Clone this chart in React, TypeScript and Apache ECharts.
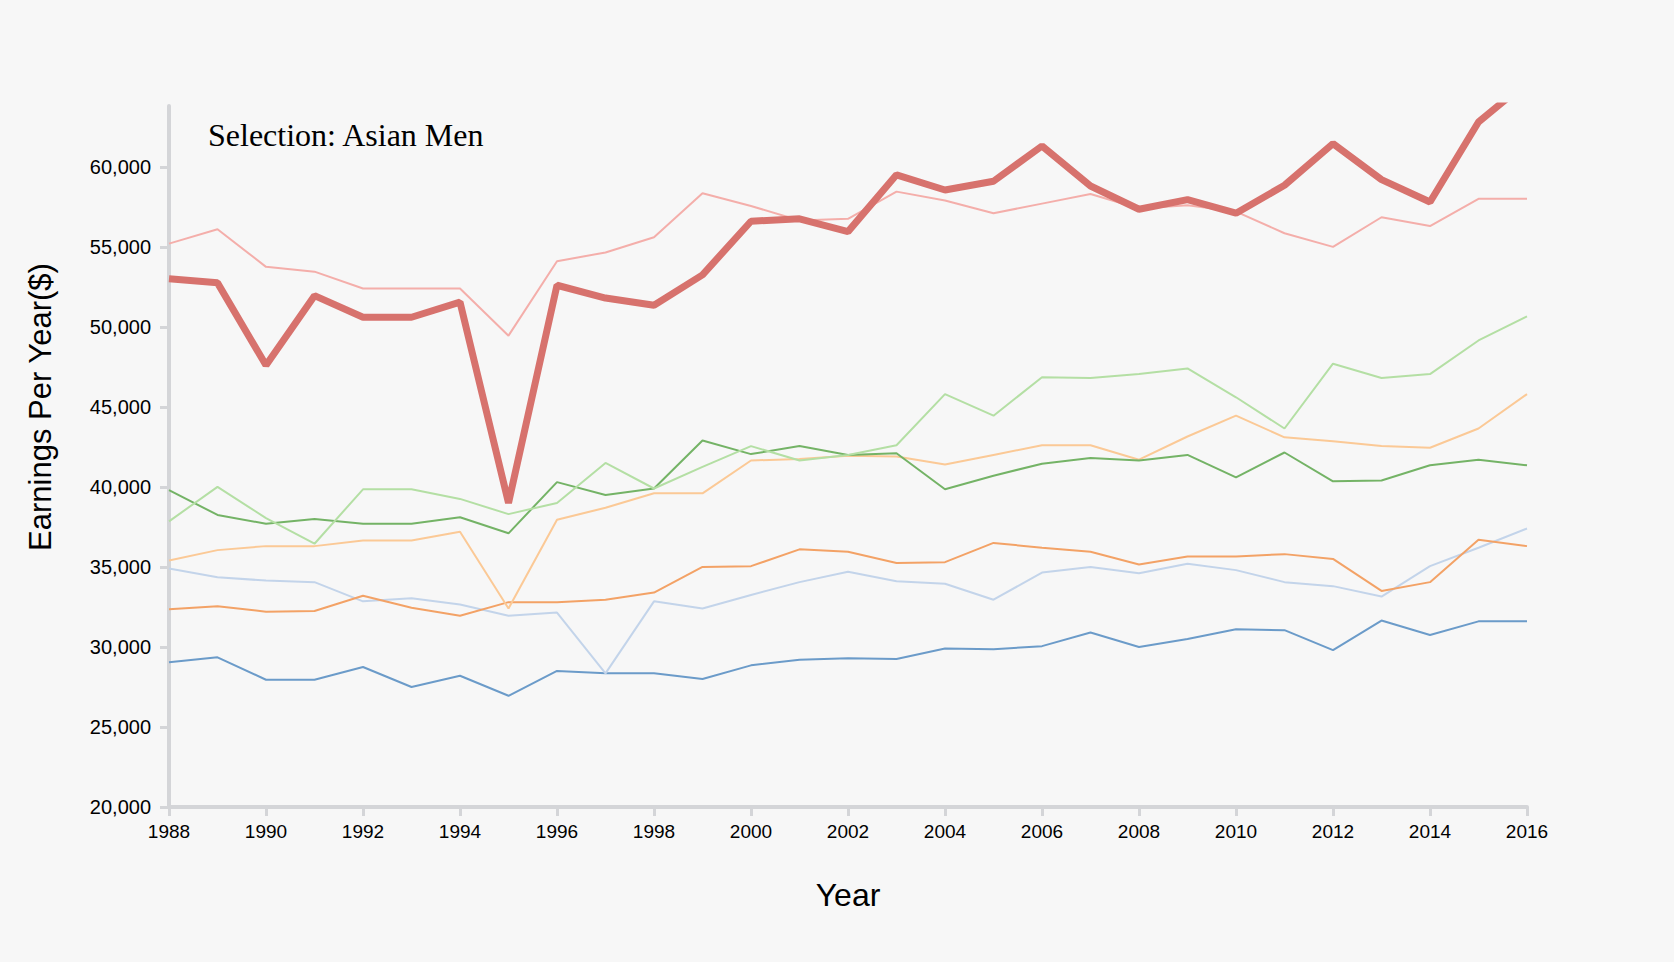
import React, { useEffect, useRef } from "react";
import * as echarts from "echarts";

const years = [1988, 1989, 1990, 1991, 1992, 1993, 1994, 1995, 1996, 1997, 1998, 1999, 2000, 2001, 2002, 2003, 2004, 2005, 2006, 2007, 2008, 2009, 2010, 2011, 2012, 2013, 2014, 2015, 2016];

const asianMen = [53000, 52750, 47600, 51950, 50600, 50600, 51550, 39000, 52600, 51800, 51350, 53250, 56600, 56750, 55950, 59500, 58550, 59100, 61300, 58800, 57350, 57950, 57100, 58850, 61450, 59200, 57800, 62800, 65300];
const asianWomen = [55200, 56100, 53750, 53450, 52400, 52400, 52400, 49450, 54100, 54650, 55600, 58350, 57550, 56650, 56750, 58450, 57900, 57100, 57700, 58300, 57400, 57600, 57200, 55850, 55000, 56850, 56300, 58000, 58000];
const whiteWomen = [37850, 40000, 38050, 36450, 39850, 39850, 39250, 38300, 39000, 41500, 39900, 41250, 42550, 41650, 42000, 42600, 45800, 44450, 46850, 46800, 47050, 47400, 45600, 43650, 47700, 46800, 47050, 49150, 50650];
const whiteMen = [39800, 38250, 37700, 38000, 37700, 37700, 38100, 37100, 40300, 39500, 39900, 42900, 42050, 42550, 42000, 42100, 39850, 40700, 41450, 41800, 41650, 42000, 40600, 42150, 40350, 40400, 41350, 41700, 41350];
const blackWomen = [35400, 36050, 36300, 36300, 36650, 36650, 37200, 32400, 37950, 38700, 39600, 39600, 41650, 41750, 41950, 41900, 41400, 42000, 42600, 42600, 41700, 43150, 44450, 43100, 42850, 42550, 42450, 43650, 45800];
const blackMen = [32350, 32550, 32200, 32250, 33200, 32450, 31950, 32800, 32800, 32950, 33400, 35000, 35050, 36100, 35950, 35250, 35300, 36500, 36200, 35950, 35150, 35650, 35650, 35800, 35500, 33500, 34050, 36700, 36300];
const hispanicWomen = [34900, 34350, 34150, 34050, 32850, 33050, 32650, 31950, 32150, 28350, 32850, 32400, 33250, 34050, 34700, 34100, 33950, 32950, 34650, 35000, 34600, 35200, 34800, 34050, 33800, 33150, 35050, 36200, 37400];
const hispanicMen = [29050, 29350, 27950, 27950, 28750, 27500, 28200, 26950, 28500, 28350, 28350, 28000, 28850, 29200, 29300, 29250, 29900, 29850, 30050, 30900, 30000, 30500, 31100, 31050, 29800, 31650, 30750, 31600, 31600];

const yTicks = [20000, 25000, 30000, 35000, 40000, 45000, 50000, 55000, 60000];

const seriesDefs = [
  { name: "Hispanic Men", data: hispanicMen, color: "#6b9bc9" },
  { name: "Hispanic Women", data: hispanicWomen, color: "#c3d4ea" },
  { name: "Black Men", data: blackMen, color: "#f3a266" },
  { name: "Black Women", data: blackWomen, color: "#fbc996" },
  { name: "White Men", data: whiteMen, color: "#74b366" },
  { name: "White Women", data: whiteWomen, color: "#b4dfa4" },
  { name: "Asian Women", data: asianWomen, color: "#f4aeaa" },
];

export default function App() {
  const ref = useRef<HTMLDivElement>(null);
  useEffect(() => {
    if (!ref.current) return;
    const chart = echarts.init(ref.current, undefined, { renderer: "svg" });
    const mk = (vals: number[]) => years.map((y, i) => [y, vals[i]]);
    const series: any[] = seriesDefs.map((s) => ({
      name: s.name,
      type: "line",
      data: mk(s.data),
      showSymbol: false,
      symbol: "none",
      lineStyle: { color: s.color, width: 2 },
      itemStyle: { color: s.color },
      z: 2,
      clip: true,
    }));
    series.push({
      name: "Asian Men",
      type: "line",
      data: mk(asianMen),
      showSymbol: false,
      symbol: "none",
      lineStyle: { color: "#d7726d", width: 7, join: "bevel" },
      itemStyle: { color: "#d7726d" },
      z: 5,
      clip: true,
    });
    chart.setOption({
      animation: false,
      backgroundColor: "#f7f7f7",
      grid: { left: 169, right: 147, top: 106, bottom: 155, containLabel: false },
      xAxis: {
        type: "value",
        min: 1988,
        max: 2016,
        interval: 2,
        axisLine: { show: true, lineStyle: { color: "#d4d5d8", width: 4 } },
        axisTick: { show: true, length: 9, lineStyle: { color: "#d4d5d8", width: 3 } },
        splitLine: { show: false },
        axisLabel: {
          margin: 15,
          color: "#000",
          fontFamily: "Liberation Sans",
          fontSize: 19,
          formatter: (v: number) => String(v),
        },
      },
      yAxis: {
        type: "value",
        min: 20000,
        max: 63800,
        axisLine: { show: true, lineStyle: { color: "#d4d5d8", width: 4 } },
        axisTick: { show: true, length: 9, customValues: yTicks, lineStyle: { color: "#d4d5d8", width: 3 } },
        splitLine: { show: false },
        axisLabel: {
          margin: 18,
          color: "#000",
          fontFamily: "Liberation Sans",
          fontSize: 20,
          customValues: yTicks,
          formatter: (v: number) => v.toLocaleString("en-US"),
        },
      },
      graphic: [
        {
          type: "text",
          left: 208,
          top: 119,
          style: {
            text: "Selection: Asian Men",
            fontFamily: "Liberation Serif",
            fontSize: 32,
            fill: "#000",
          },
        },
        {
          type: "text",
          x: 40,
          y: 407,
          rotation: Math.PI / 2,
          style: {
            text: "Earnings Per Year($)",
            fontFamily: "Liberation Sans",
            fontSize: 31,
            fill: "#000",
            align: "center",
            verticalAlign: "middle",
          },
        },
        {
          type: "text",
          x: 848,
          y: 895,
          style: {
            text: "Year",
            fontFamily: "Liberation Sans",
            fontSize: 32,
            fill: "#000",
            align: "center",
            verticalAlign: "middle",
          },
        },
      ],
      series,
    });
    return () => chart.dispose();
  }, []);
  return (
    <div
      ref={ref}
      style={{ position: "absolute", left: 0, top: 0, width: 1674, height: 962 }}
    />
  );
}
